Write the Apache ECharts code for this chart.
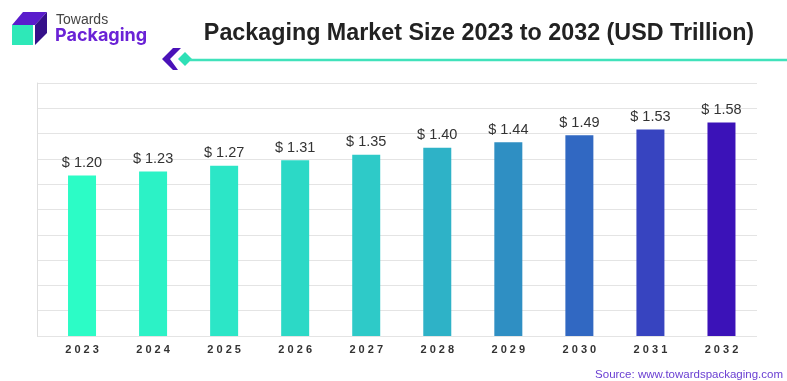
<!DOCTYPE html>
<html>
<head>
<meta charset="utf-8">
<script src="https://cdn.jsdelivr.net/npm/echarts@6/dist/echarts.min.js"></script>
<style>
  html, body { margin: 0; padding: 0; background: #fff; }
  #chart { width: 787px; height: 381px; }
</style>
</head>
<body>
<div id="chart"></div>
<script>
// Packaging market size by year, USD trillion
const years = ['2023', '2024', '2025', '2026', '2027', '2028', '2029', '2030', '2031', '2032'];
const marketSize = [1.20, 1.23, 1.27, 1.31, 1.35, 1.40, 1.44, 1.49, 1.53, 1.58];

// teal → violet ramp, one shade per year
const barColors = ['#2cfcc6', '#2cf2c6', '#2ce6c7', '#2cd9c6', '#2ecac8', '#2eb2c7', '#2f8fc3', '#3168c2', '#3744c0', '#3b12b8'];

const chart = echarts.init(document.getElementById('chart'), null, { renderer: 'canvas' });

const FONT = 'Liberation Sans, Arial, sans-serif';

chart.setOption({
  animation: false,
  backgroundColor: '#ffffff',
  title: {
    text: 'Packaging Market Size 2023 to 2032 (USD Trillion)',
    left: 474,
    top: 17,
    textAlign: 'center',
    textStyle: { fontFamily: FONT, fontWeight: 'bold', fontSize: 23.3, color: '#222222' }
  },
  grid: [
    // background rules
    { left: 37, right: 30, top: 83, bottom: 45 },
    // bars
    { left: 46.5, right: 30, top: 83, bottom: 45 }
  ],
  xAxis: [
    { gridIndex: 0, type: 'value', min: 0, max: 1, show: false },
    {
      gridIndex: 1,
      type: 'category',
      data: years,
      axisLine: { show: false },
      axisTick: { show: false },
      axisLabel: {
        margin: 8,
        fontFamily: FONT,
        fontWeight: 'bold',
        fontSize: 11,
        color: '#333333',
        formatter: v => v.split('').join(' ')
      }
    }
  ],
  yAxis: [
    {
      gridIndex: 0,
      type: 'value',
      min: 0,
      max: 10,
      interval: 1,
      axisLine: { show: true, lineStyle: { color: '#dedede', width: 1 } },
      axisTick: { show: false },
      axisLabel: { show: false },
      splitLine: { show: true, lineStyle: { color: '#e4e4e4', width: 1 } }
    },
    {
      gridIndex: 1,
      type: 'value',
      min: 0.05,
      max: 1.864,
      show: false,
      splitLine: { show: false }
    }
  ],
  series: [
    {
      type: 'bar',
      xAxisIndex: 1,
      yAxisIndex: 1,
      barWidth: 28,
      data: marketSize.map((v, i) => ({ value: v, itemStyle: { color: barColors[i] } })),
      label: {
        show: true,
        position: 'top',
        distance: 5,
        fontFamily: FONT,
        fontSize: 14.5,
        color: '#333333',
        formatter: p => '$ ' + p.value.toFixed(2)
      }
    }
  ],
  graphic: [
    // logo cube
    { type: 'polygon', shape: { points: [[12, 25], [23, 12], [47, 12], [35, 25]] }, style: { fill: '#5a1ccc' } },
    { type: 'polygon', shape: { points: [[35, 25], [47, 12], [47, 33], [35, 45]] }, style: { fill: '#35108a' } },
    { type: 'rect', shape: { x: 12, y: 25, width: 21, height: 20 }, style: { fill: '#2ee8b8' } },
    { type: 'text', left: 56, top: 13, style: { text: 'Towards', font: '14px ' + FONT, fill: '#444444' } },
    { type: 'text', left: 55, top: 27, style: { text: 'Packaging', font: 'bold 18px Inter, Liberation Sans, Arial, sans-serif', fill: '#6a22d6' } },
    // divider under the title
    { type: 'polygon', shape: { points: [[173, 48], [162, 59], [173, 70], [178, 70], [170, 59], [181, 48]] }, style: { fill: '#4a12b8' } },
    { type: 'polygon', shape: { points: [[185, 52], [192, 59], [185, 66], [178, 59]] }, style: { fill: '#2ee0b6' } },
    { type: 'line', shape: { x1: 190, y1: 60, x2: 787, y2: 60 }, style: { stroke: '#40e2bb', lineWidth: 2.5 } },
    // source note
    { type: 'text', right: 4, top: 369, style: { text: 'Source: www.towardspackaging.com', font: '11.5px ' + FONT, fill: '#6a3fd2' } }
  ]
});
</script>
</body>
</html>
